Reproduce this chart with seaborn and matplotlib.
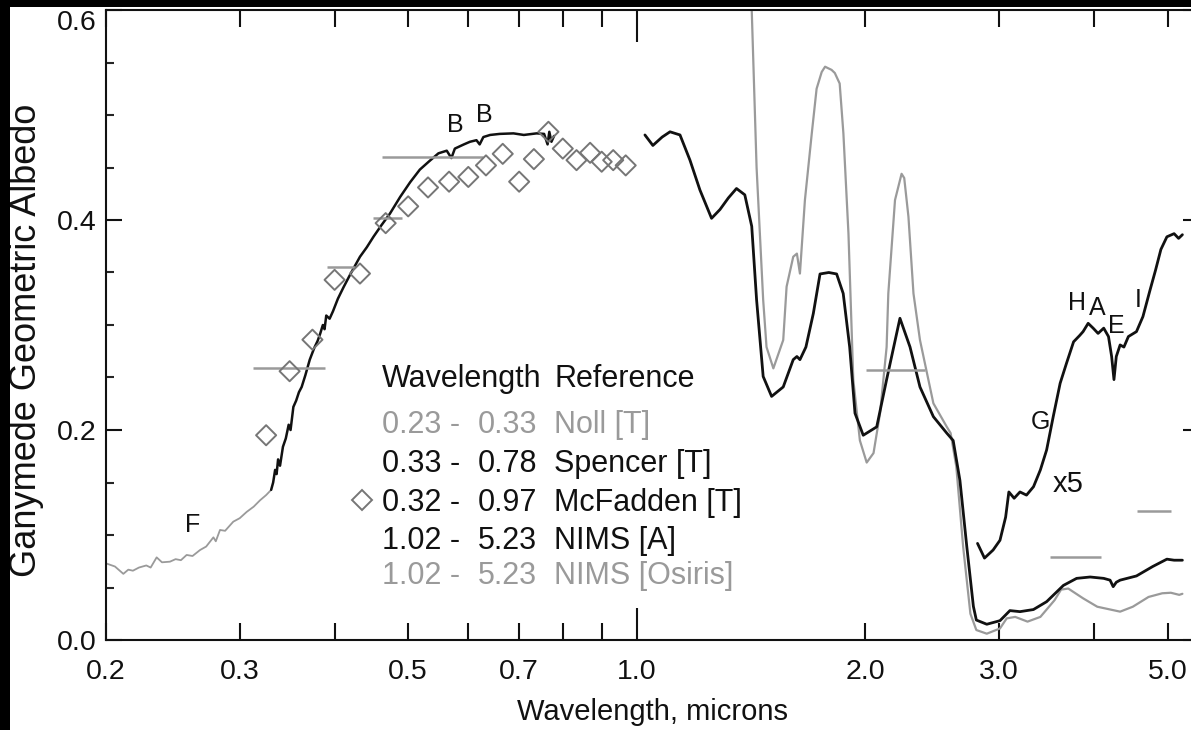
import matplotlib
matplotlib.use("Agg")
import matplotlib.pyplot as plt
import matplotlib.ticker as mticker
from matplotlib.patches import Rectangle
import seaborn as sns

# ---------------- data ----------------
noll_wl = [0.200, 0.2055, 0.2108, 0.214, 0.217, 0.221, 0.226, 0.229, 0.2332, 0.237,
           0.2428, 0.247, 0.251, 0.2554, 0.260, 0.266, 0.271, 0.277, 0.279, 0.2826,
           0.287, 0.2942, 0.300, 0.3064, 0.313, 0.319, 0.325, 0.330]
noll_alb = [0.073, 0.070, 0.063, 0.067, 0.066, 0.069, 0.071, 0.069, 0.0787, 0.074,
            0.0746, 0.077, 0.076, 0.081, 0.080, 0.0857, 0.089, 0.0978, 0.094, 0.1048,
            0.104, 0.1127, 0.116, 0.122, 0.127, 0.133, 0.138, 0.143]

spencer_wl = [0.330, 0.332, 0.334, 0.3355, 0.337, 0.339, 0.342, 0.345, 0.348, 0.350,
              0.353, 0.356, 0.359, 0.362, 0.366, 0.371, 0.376, 0.380, 0.383, 0.386,
              0.388, 0.390, 0.394, 0.398, 0.404, 0.411, 0.420, 0.432, 0.441, 0.450,
              0.461, 0.473, 0.488, 0.503, 0.518, 0.533, 0.548, 0.562, 0.570, 0.576,
              0.592, 0.603, 0.615, 0.621, 0.628, 0.641, 0.660, 0.688, 0.710, 0.738,
              0.755, 0.763, 0.767, 0.772, 0.778]
spencer_alb = [0.143, 0.150, 0.162, 0.158, 0.172, 0.166, 0.184, 0.192, 0.205, 0.200,
               0.222, 0.228, 0.236, 0.241, 0.252, 0.267, 0.278, 0.285, 0.292, 0.300,
               0.296, 0.309, 0.306, 0.313, 0.325, 0.336, 0.349, 0.365, 0.374, 0.384,
               0.395, 0.406, 0.422, 0.436, 0.448, 0.456, 0.4635, 0.466, 0.459, 0.468,
               0.472, 0.4745, 0.476, 0.472, 0.479, 0.481, 0.482, 0.4825, 0.481, 0.4825,
               0.482, 0.472, 0.484, 0.4745, 0.480]

mcfadden_wl = [0.325, 0.349, 0.374, 0.400, 0.432, 0.467, 0.500, 0.531, 0.566, 0.600,
               0.633, 0.666, 0.700, 0.732, 0.765, 0.799, 0.833, 0.868, 0.899, 0.931, 0.967]
mcfadden_alb = [0.195, 0.256, 0.286, 0.343, 0.349, 0.397, 0.413, 0.431, 0.4365, 0.441,
                0.452, 0.463, 0.4365, 0.458, 0.484, 0.468, 0.457, 0.464, 0.4555, 0.457, 0.452]

nims_a_wl = [1.025, 1.05, 1.08, 1.106, 1.14, 1.175, 1.211, 1.2545, 1.287, 1.320,
             1.353, 1.3875, 1.417, 1.438, 1.467, 1.505, 1.559, 1.607, 1.625, 1.640,
             1.670, 1.708, 1.743, 1.790, 1.833, 1.870, 1.907, 1.938, 1.987, 2.07,
             2.133, 2.221, 2.29, 2.36, 2.458, 2.56, 2.61, 2.664, 2.72, 2.775,
             2.80, 2.89, 3.008, 3.10, 3.196, 3.329, 3.465, 3.646, 3.795, 3.954,
             4.12, 4.20, 4.24, 4.28, 4.33, 4.55, 4.78, 4.99, 5.10, 5.23]
nims_a_alb = [0.481, 0.471, 0.479, 0.484, 0.481, 0.457, 0.4286, 0.4016, 0.410, 0.421,
              0.430, 0.424, 0.394, 0.324, 0.251, 0.232, 0.241, 0.267, 0.270, 0.267,
              0.279, 0.311, 0.3486, 0.350, 0.3486, 0.330, 0.279, 0.216, 0.195, 0.203,
              0.248, 0.3064, 0.279, 0.241, 0.2127, 0.197, 0.190, 0.152, 0.089, 0.032,
              0.019, 0.015, 0.0184, 0.028, 0.027, 0.029, 0.0365, 0.052, 0.0587, 0.060,
              0.0587, 0.057, 0.0508, 0.055, 0.057, 0.061, 0.070, 0.077, 0.076, 0.076]

osiris_wl = [1.40, 1.417, 1.438, 1.467, 1.482, 1.513, 1.559, 1.575, 1.607, 1.625,
             1.64, 1.665, 1.70, 1.725, 1.752, 1.770, 1.787, 1.805, 1.823, 1.85,
             1.871, 1.90, 1.928, 1.967, 2.008, 2.05, 2.091, 2.133, 2.144, 2.188,
             2.232, 2.25, 2.279, 2.314, 2.36, 2.458, 2.56, 2.59, 2.635, 2.69,
             2.75, 2.80, 2.89, 3.008, 3.07, 3.15, 3.27, 3.40, 3.55, 3.62,
             3.70, 3.87, 4.04, 4.33, 4.50, 4.72, 4.92, 5.05, 5.18, 5.23]
osiris_alb = [0.70, 0.600, 0.45, 0.324, 0.279, 0.2587, 0.2857, 0.3365, 0.365, 0.368,
              0.349, 0.419, 0.4825, 0.525, 0.541, 0.546, 0.5445, 0.543, 0.540, 0.530,
              0.4825, 0.387, 0.248, 0.19, 0.169, 0.178, 0.216, 0.279, 0.330, 0.419,
              0.444, 0.440, 0.403, 0.330, 0.2857, 0.2254, 0.203, 0.197, 0.165, 0.089,
              0.025, 0.0095, 0.006, 0.011, 0.0206, 0.022, 0.0175, 0.022, 0.038, 0.048,
              0.049, 0.0397, 0.0317, 0.027, 0.0317, 0.041, 0.0445, 0.045, 0.043, 0.044]

x5_wl = [2.81, 2.87, 2.946, 3.008, 3.06, 3.09, 3.14, 3.196, 3.26, 3.33,
         3.40, 3.465, 3.535, 3.61, 3.68, 3.76, 3.83, 3.87, 3.93, 3.99,
         4.05, 4.12, 4.18, 4.22, 4.25, 4.28, 4.33, 4.38, 4.44, 4.55,
         4.64, 4.74, 4.82, 4.90, 4.99, 5.10, 5.17, 5.23]
x5_alb = [0.092, 0.078, 0.0857, 0.095, 0.117, 0.141, 0.135, 0.141, 0.138, 0.146,
          0.162, 0.181, 0.2127, 0.2445, 0.2635, 0.284, 0.290, 0.2937, 0.3016, 0.297,
          0.292, 0.297, 0.289, 0.270, 0.248, 0.270, 0.281, 0.279, 0.289, 0.2937,
          0.308, 0.333, 0.352, 0.372, 0.384, 0.387, 0.3825, 0.386]

# broadband albedos (horizontal bars): start, end, albedo
band_lo = [0.312, 0.391, 0.450, 0.462, 2.003, 3.50, 4.56]
band_hi = [0.388, 0.425, 0.490, 0.627, 2.396, 4.09, 5.05]
band_alb = [0.259, 0.355, 0.402, 0.460, 0.257, 0.079, 0.123]

# feature labels
feat_labels = ["F", "B", "B", "G", "H", "A", "E", "I", "x5"]
feat_wl = [0.260, 0.576, 0.629, 3.40, 3.80, 4.04, 4.28, 4.58, 3.70]
feat_alb = [0.1095, 0.490, 0.500, 0.2076, 0.321, 0.316, 0.299, 0.324, 0.1486]

# legend table
leg_from = ["0.23 -", "0.33 -", "0.32 -", "1.02 -", "1.02 -"]
leg_to = ["0.33", "0.78", "0.97", "5.23", "5.23"]
leg_ref = ["Noll [T]", "Spencer [T]", "McFadden [T]", "NIMS [A]", "NIMS [Osiris]"]
leg_grey = [True, False, False, False, True]

xtick_pos = [0.2, 0.3, 0.4, 0.5, 0.6, 0.7, 0.8, 0.9, 2.0, 3.0, 4.0, 5.0]
xtick_labelled = [0.2, 0.3, 0.5, 0.7, 2.0, 3.0, 5.0]

# ---------------- style ----------------
sns.set_style("white")
plt.rcParams["font.family"] = ["Liberation Sans", "DejaVu Sans"]

GREY = "#9a9a9a"
DGREY = "#767676"
BLACK = "#111111"

fig = plt.figure(figsize=(11.91, 7.30), dpi=100)
fig.patch.set_facecolor("white")
ax = fig.add_axes([106 / 1191, 90 / 730, 1093 / 1191, 630 / 730])
ax.set_facecolor("white")

sns.lineplot(x=noll_wl, y=noll_alb, color=GREY, lw=1.3, sort=False, estimator=None, ax=ax)
sns.lineplot(x=spencer_wl, y=spencer_alb, color=BLACK, lw=1.8, sort=False, estimator=None, ax=ax)
sns.lineplot(x=osiris_wl, y=osiris_alb, color=GREY, lw=1.6, sort=False, estimator=None, ax=ax)
sns.lineplot(x=nims_a_wl, y=nims_a_alb, color=BLACK, lw=2.0, sort=False, estimator=None, ax=ax)
sns.lineplot(x=x5_wl, y=x5_alb, color=BLACK, lw=2.0, sort=False, estimator=None, ax=ax)
ax.hlines(band_alb, band_lo, band_hi, colors=GREY, lw=1.8, zorder=3)

sns.scatterplot(x=mcfadden_wl, y=mcfadden_alb, marker="D", s=105, color="white",
                edgecolor=DGREY, linewidth=1.4, ax=ax, zorder=4)
ax.collections[-1].set_facecolor("none")

for lab, xw, ya in zip(feat_labels, feat_wl, feat_alb):
    ax.text(xw, ya, lab, ha="center", va="center", fontsize=18 if lab != "x5" else 21,
            color=BLACK, zorder=5)

# legend block (axes coordinates)
ax.text(0.2525, 0.4021, "Wavelength", fontsize=22, color=BLACK, ha="left", va="baseline",
        transform=ax.transAxes)
ax.text(0.4099, 0.4021, "Reference", fontsize=22, color=BLACK, ha="left", va="baseline",
        transform=ax.transAxes)
row_base = [0.3286, 0.2667, 0.2048, 0.1444, 0.0889]
for yb, a, b, r, g in zip(row_base, leg_from, leg_to, leg_ref, leg_grey):
    c = GREY if g else BLACK
    ax.text(0.2525, yb, a, fontsize=22, color=c, ha="left", va="baseline", transform=ax.transAxes)
    ax.text(0.3403, yb, b, fontsize=22, color=c, ha="left", va="baseline", transform=ax.transAxes)
    ax.text(0.4099, yb, r, fontsize=22, color=c, ha="left", va="baseline", transform=ax.transAxes)
ax.plot([0.2342], [0.2222], marker="D", ms=10, mfc="none", mec=DGREY, mew=1.4,
        transform=ax.transAxes, clip_on=False)

# axes
ax.set_xscale("log")
ax.set_xlim(0.2, 5.5)
ax.set_ylim(0.0, 0.6)

ax.xaxis.set_major_locator(mticker.FixedLocator([1.0]))
ax.xaxis.set_major_formatter(mticker.FixedFormatter(["1.0"]))
ax.xaxis.set_minor_locator(mticker.FixedLocator(xtick_pos))
ax.xaxis.set_minor_formatter(mticker.FuncFormatter(
    lambda v, p: f"{v:.1f}" if any(abs(v - t) < 1e-6 for t in xtick_labelled) else ""))

ax.yaxis.set_major_locator(mticker.FixedLocator([0.0, 0.2, 0.4, 0.6]))
ax.yaxis.set_major_formatter(mticker.FormatStrFormatter("%.1f"))
ax.yaxis.set_minor_locator(mticker.MultipleLocator(0.05))

ax.tick_params(axis="x", which="major", direction="in", length=23, width=1.5,
               top=True, bottom=True, labelsize=20.5, pad=14, colors=BLACK)
ax.tick_params(axis="x", which="minor", direction="in", length=12, width=1.5,
               top=True, bottom=True, labelsize=20.5, pad=14, colors=BLACK)
ax.tick_params(axis="y", which="major", direction="in", length=11.5, width=1.5,
               left=True, right=True, labelsize=20.5, pad=6.5, colors=BLACK)
ax.tick_params(axis="y", which="minor", direction="in", length=6, width=1.5,
               left=True, right=True)

# the top y label sits just below the frame, as in the original
ax.yaxis.get_major_ticks()[-1].label1.set_verticalalignment("top")

for sp in ax.spines.values():
    sp.set_linewidth(1.5)
    sp.set_color(BLACK)
    sp.set_visible(True)

ax.set_xlabel("Wavelength, microns", fontsize=21, color=BLACK)
ax.xaxis.set_label_coords(0.5, -0.092)
ax.set_ylabel("Ganymede Geometric Albedo", fontsize=26, color=BLACK)
ax.yaxis.set_label_coords(-0.0571, 0.476)

# black frame bands at top and left of the picture
fig.patches.append(Rectangle((0, 1 - 7 / 730), 1, 7 / 730, transform=fig.transFigure,
                             facecolor="black", edgecolor="none", zorder=10))
fig.patches.append(Rectangle((0, 0), 10 / 1191, 1, transform=fig.transFigure,
                             facecolor="black", edgecolor="none", zorder=10))

fig.savefig("out.png", dpi=100)
